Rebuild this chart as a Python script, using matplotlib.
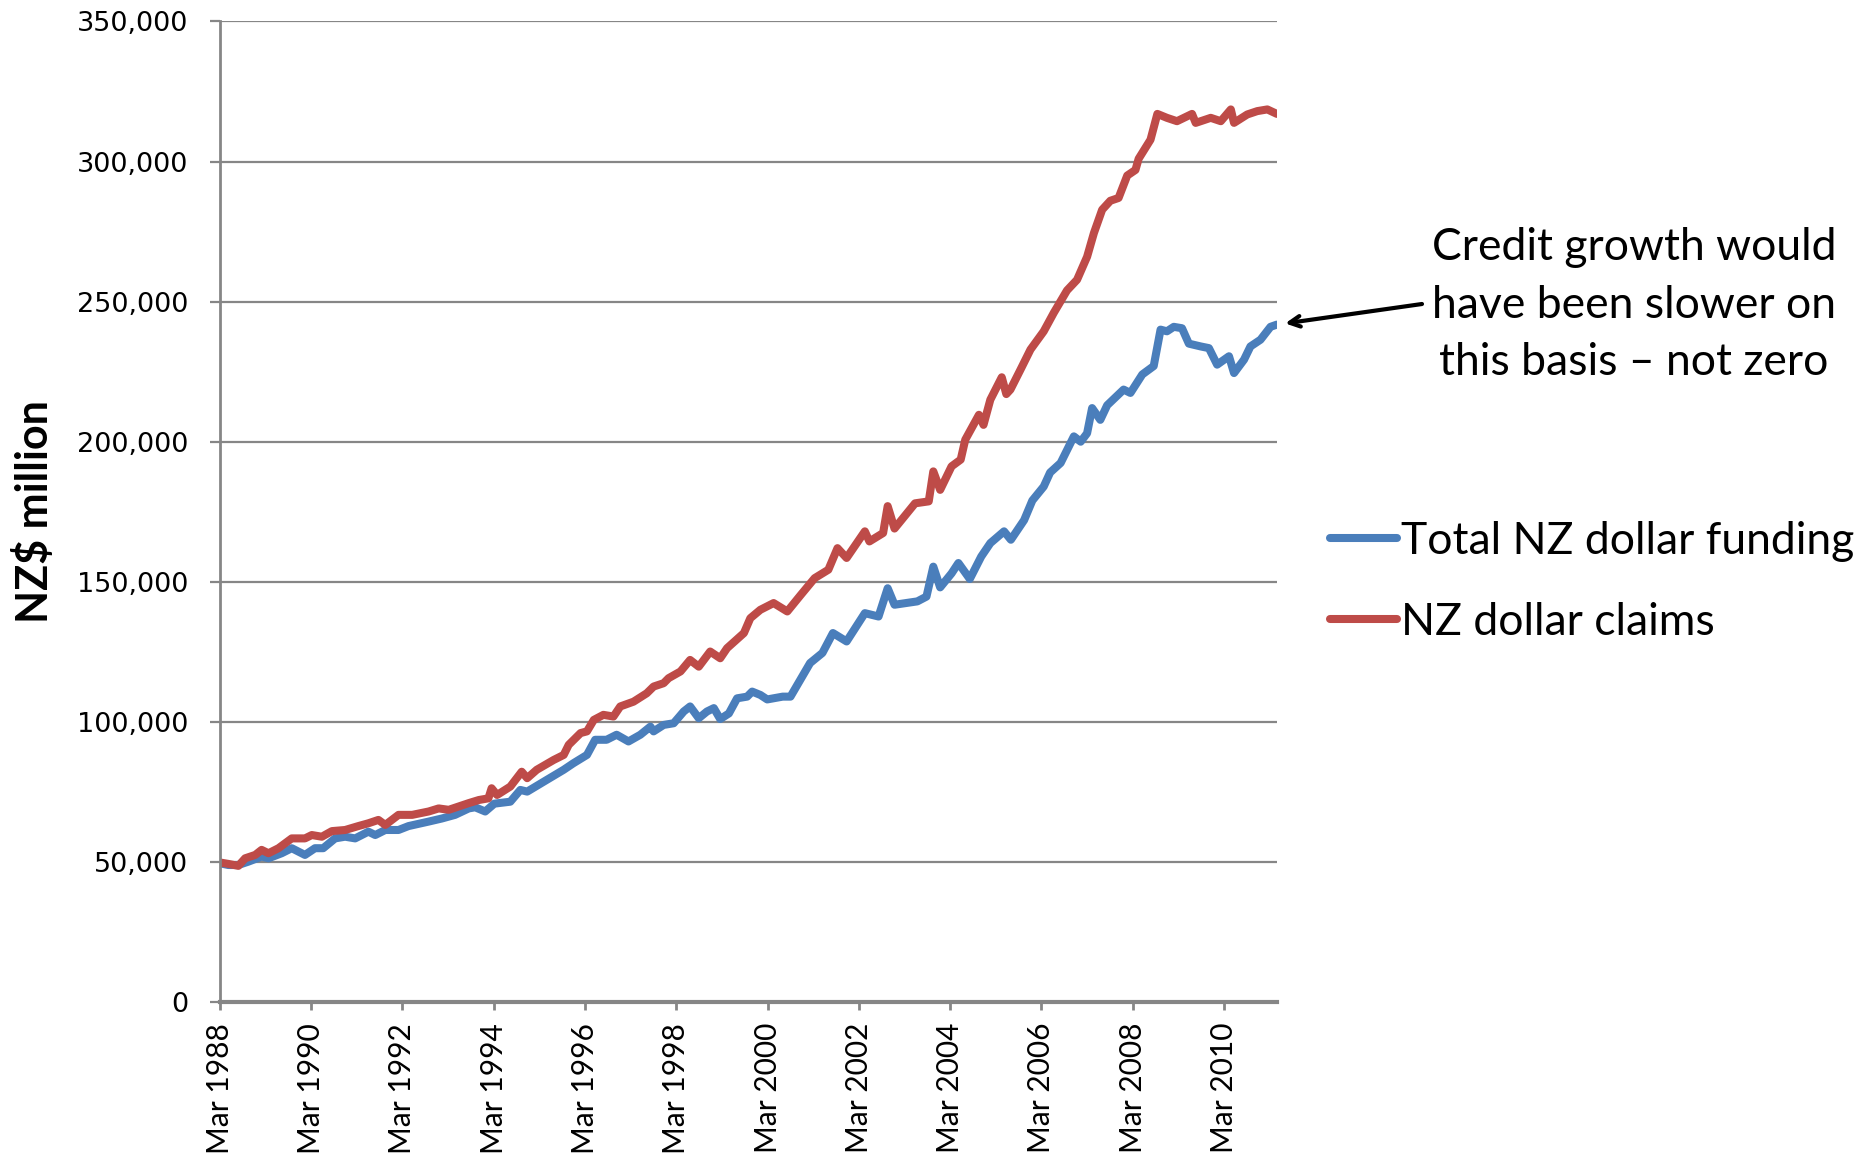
import matplotlib
matplotlib.use("Agg")
import matplotlib.pyplot as plt
from matplotlib.ticker import FuncFormatter

# dates as decimal years (Mar 1988 = 1988.17), values in NZ$ million
funding_t = [1988.17, 1988.35, 1988.57, 1988.79, 1989.08, 1989.23, 1989.52, 1989.74,
             1990.03, 1990.25, 1990.43, 1990.69, 1990.91, 1991.13, 1991.42, 1991.57,
             1991.79, 1992.08, 1992.30, 1992.74, 1993.03, 1993.32, 1993.62, 1993.76,
             1993.98, 1994.18, 1994.53, 1994.75, 1994.90, 1995.33, 1995.70, 1995.91,
             1996.21, 1996.39, 1996.64, 1996.86, 1997.12, 1997.38, 1997.60, 1997.67,
             1997.89, 1998.11, 1998.33, 1998.47, 1998.66, 1998.84, 1998.99, 1999.13,
             1999.32, 1999.50, 1999.72, 1999.83, 2000.01, 2000.16, 2000.50, 2000.67,
             2001.10, 2001.37, 2001.60, 2001.90, 2002.30, 2002.60, 2002.80, 2002.95,
             2003.45, 2003.65, 2003.80, 2003.95, 2004.20, 2004.35, 2004.60, 2004.85,
             2005.05, 2005.35, 2005.50, 2005.79, 2005.97, 2006.22, 2006.36, 2006.59,
             2006.88, 2007.03, 2007.17, 2007.28, 2007.46, 2007.61, 2007.97, 2008.12,
             2008.38, 2008.63, 2008.78, 2008.92, 2009.07, 2009.25, 2009.40, 2009.66,
             2009.84, 2010.02, 2010.28, 2010.39, 2010.61, 2010.75, 2010.97, 2011.19,
             2011.33]
funding_v = [49500, 48900, 48900, 50100, 51900, 51300, 53100, 54900,
             52500, 54900, 54900, 58400, 59000, 58400, 60800, 59600,
             61400, 61400, 62800, 64400, 65500, 66800, 69100, 69500,
             68000, 70800, 71500, 75700, 75100, 79300, 82900, 85200,
             88200, 93600, 93600, 95400, 93000, 95400, 98300, 96600,
             98900, 99500, 103700, 105500, 101300, 103700, 104900, 101000,
             103000, 108400, 109000, 110800, 109600, 108000, 109000, 109000,
             121000, 124600, 131700, 128700, 138800, 137600, 147700, 141800,
             143000, 144700, 155400, 148000, 153000, 156700, 151000, 159000,
             163800, 168000, 165000, 172000, 179000, 184000, 189000, 192400,
             201900, 200000, 203000, 212000, 207800, 213000, 218600, 217400,
             224000, 227000, 240000, 239400, 241000, 240500, 235000, 234000,
             233400, 227500, 230500, 224500, 229300, 234000, 236400, 241000,
             241800]

claims_t = [1988.17, 1988.35, 1988.57, 1988.72, 1988.94, 1989.08, 1989.23, 1989.45,
            1989.74, 1990.03, 1990.18, 1990.40, 1990.62, 1990.91, 1991.20, 1991.42,
            1991.64, 1991.79, 1992.08, 1992.38, 1992.74, 1992.96, 1993.18, 1993.62,
            1993.84, 1994.05, 1994.12, 1994.24, 1994.53, 1994.78, 1994.90, 1995.11,
            1995.48, 1995.70, 1995.81, 1996.07, 1996.21, 1996.36, 1996.57, 1996.79,
            1996.94, 1997.23, 1997.52, 1997.67, 1997.89, 1998.00, 1998.26, 1998.47,
            1998.66, 1998.91, 1999.13, 1999.28, 1999.65, 1999.79, 2000.01, 2000.30,
            2000.60, 2000.90, 2001.20, 2001.50, 2001.70, 2001.90, 2002.30, 2002.40,
            2002.70, 2002.80, 2002.95, 2003.40, 2003.70, 2003.80, 2003.95, 2004.20,
            2004.40, 2004.50, 2004.80, 2004.90, 2005.05, 2005.30, 2005.40, 2005.49,
            2005.71, 2005.93, 2006.22, 2006.44, 2006.73, 2006.95, 2007.17, 2007.32,
            2007.50, 2007.68, 2007.86, 2008.05, 2008.23, 2008.30, 2008.56, 2008.71,
            2008.92, 2009.14, 2009.47, 2009.55, 2009.88, 2010.10, 2010.32, 2010.39,
            2010.68, 2010.90, 2011.12, 2011.33]
claims_v = [49800, 49300, 48600, 51300, 52500, 54300, 53100, 54900,
            58400, 58400, 59600, 59000, 61000, 61400, 62800, 63800,
            65000, 63200, 66800, 66800, 68000, 69100, 68600, 71000,
            72100, 72700, 76300, 73900, 76900, 82200, 79900, 82900,
            86400, 88200, 91800, 96000, 96600, 100700, 102500, 101900,
            105500, 107200, 110200, 112600, 113800, 115600, 118000, 122100,
            119700, 125100, 122700, 126300, 131700, 137000, 140000, 142400,
            139400, 145400, 151300, 154300, 162000, 158500, 168000, 164400,
            167400, 177000, 169000, 178000, 178700, 189400, 182800, 191200,
            193600, 200700, 209600, 206000, 215000, 223000, 217000, 218600,
            225700, 232900, 239400, 246000, 254000, 257800, 266000, 274500,
            282800, 286000, 287000, 295000, 297000, 301000, 307800, 317000,
            315600, 314400, 317000, 313800, 315600, 314400, 318600, 313800,
            316800, 318000, 318600, 317000]

tick_years = list(range(1988, 2011, 2))
yticks = [0, 50000, 100000, 150000, 200000, 250000, 300000, 350000]

blue = "#4A7EBB"
red = "#BE4B48"
grey = "#868686"
calibri_like = "Lato"

fig = plt.figure(figsize=(18.75, 11.6), dpi=100)
ax = fig.add_axes([0.1173, 0.1362, 0.5638, 0.8453])

l1, = ax.plot(funding_t, funding_v, color=blue, lw=5.8,
              solid_joinstyle="round", solid_capstyle="round", label="Total NZ dollar funding")
l2, = ax.plot(claims_t, claims_v, color=red, lw=5.8,
              solid_joinstyle="round", solid_capstyle="round", label="NZ dollar claims")

ax.set_xlim(1988 + 2/12, 2011 + 4/12)
ax.set_ylim(0, 350000)
ax.set_yticks(yticks)
ax.yaxis.set_major_formatter(FuncFormatter(lambda v, p: f"{v:,.0f}"))
ax.set_xticks([y + 2/12 for y in tick_years])
ax.set_xticklabels([f"Mar {y}" for y in tick_years], rotation=90,
                   fontfamily=calibri_like, fontsize=21.5)
for t in ax.get_yticklabels():
    t.set_fontfamily("DejaVu Sans")
    t.set_fontsize(19.5)

ax.grid(axis="y", color=grey, lw=1.6)
ax.set_axisbelow(True)
for s in ["top", "right"]:
    ax.spines[s].set_visible(False)
ax.spines["left"].set_color(grey)
ax.spines["left"].set_linewidth(2.0)
ax.spines["bottom"].set_color(grey)
ax.spines["bottom"].set_linewidth(3.0)
ax.tick_params(axis="y", direction="out", length=7, width=1.6, color=grey, pad=16)
ax.tick_params(axis="x", direction="out", length=6, width=2.0, color=grey, pad=9)

fig.text(34/1875, 0.5586, "NZ$ million", rotation=90, ha="center", va="center",
         fontfamily=calibri_like, fontweight="bold", fontsize=31)

ax.annotate("", xy=(funding_t[-1], funding_v[-1]), xycoords="data",
            xytext=(1422/1875, 1 - 304/1160), textcoords="figure fraction",
            arrowprops=dict(arrowstyle="->,head_length=0.75,head_width=0.38",
                            color="black", lw=3.0, shrinkA=0, shrinkB=6))
fig.text(1634/1875, 1 - 305/1160,
         "Credit growth would\nhave been slower on\nthis basis \u2013 not zero",
         ha="center", va="center", fontfamily=calibri_like, fontsize=32,
         linespacing=1.5)

fig.legend(handles=[l1, l2], loc="center left",
           bbox_to_anchor=(1308/1875, 1 - 582/1160), frameon=False,
           prop={"family": calibri_like, "size": 32},
           handlelength=1.5, handletextpad=0.1, labelspacing=0.9, borderpad=0)

fig.savefig("out.png", dpi=100)
